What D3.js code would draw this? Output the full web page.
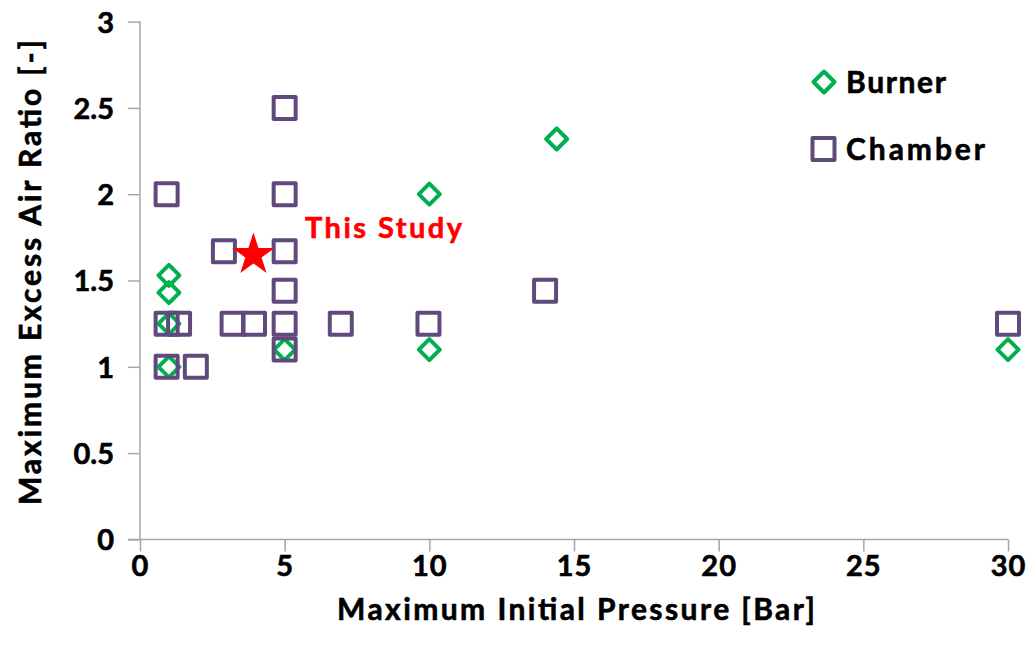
<!DOCTYPE html>
<html>
<head>
<meta charset="utf-8">
<script src="https://cdn.jsdelivr.net/npm/d3@7"></script>
<style>
  html, body { margin: 0; padding: 0; background: #fff; }
  svg { display: block; }
  text { font-family: Lato, "Open Sans", sans-serif; font-weight: bold; stroke-width: 0.6px; }
</style>
</head>
<body>
<svg id="chart" width="1034" height="657"></svg>
<script>
// Burner measurements: maximum initial pressure [bar] and excess air ratio [-]
const burnerPressure = [1, 1, 1, 1, 5, 10, 10, 14.4, 30];
const burnerRatio    = [1.53, 1.43, 1.25, 1.0, 1.1, 2.0, 1.1, 2.32, 1.1];

// Chamber measurements
const chamberPressure = [0.92, 5, 5, 2.9, 5, 5, 14, 0.92, 1.35, 3.2, 3.94, 5, 6.94, 9.97, 30, 5, 0.92, 1.93];
const chamberRatio    = [2.0, 2.5, 2.0, 1.67, 1.67, 1.44, 1.44, 1.25, 1.25, 1.25, 1.25, 1.25, 1.25, 1.25, 1.25, 1.1, 1.0, 1.0];

// Present study
const studyPressure = [3.92];
const studyRatio    = [1.66];

const xTicks = [0, 5, 10, 15, 20, 25, 30];
const yTicks = [0, 0.5, 1, 1.5, 2, 2.5, 3];
const seriesNames = ["Burner", "Chamber"];

const svg = d3.select("#chart");
const margin = { left: 140, right: 26, top: 21.6, bottom: 117.6 };
const W = 1034, H = 657;

const x = d3.scaleLinear().domain([0, 30]).range([margin.left, W - margin.right]);
const y = d3.scaleLinear().domain([0, 3]).range([H - margin.bottom, margin.top]);

const axisColor = "#a6a6a6";
const green = "#00b050";
const purple = "#604a7b";
const tickFont = "29px";

// X axis
const xAxis = svg.append("g")
  .attr("transform", `translate(0,${y(0)})`)
  .call(d3.axisBottom(x).tickValues(xTicks).tickSize(12).tickPadding(2).tickFormat(d3.format("d")));
xAxis.select(".domain").attr("stroke", axisColor).attr("stroke-width", 1.5)
  .attr("d", `M${x(0) - 12},0H${x(30)}`);
xAxis.selectAll(".tick line").attr("stroke", axisColor).attr("stroke-width", 1.5);
xAxis.selectAll(".tick text").attr("fill", "#000").attr("stroke", "#000").style("font-size", tickFont)
  .attr("letter-spacing", "1px").attr("dy", "0.78em");

// Y axis
const yAxis = svg.append("g")
  .attr("transform", `translate(${x(0)},0)`)
  .call(d3.axisLeft(y).tickValues(yTicks).tickSize(12).tickPadding(14).tickFormat(d => d));
yAxis.select(".domain").attr("stroke", axisColor).attr("stroke-width", 1.5)
  .attr("d", `M0,${y(3)}V${y(0)}`);
yAxis.selectAll(".tick line").attr("stroke", axisColor).attr("stroke-width", 1.5);
yAxis.selectAll(".tick text").attr("fill", "#000").attr("stroke", "#000").style("font-size", tickFont)
  .attr("dy", "0.36em");

// Axis titles
svg.append("text")
  .attr("x", 337).attr("y", 620)
  .attr("textLength", 478).attr("lengthAdjust", "spacing")
  .attr("fill", "#000").attr("stroke", "#000")
  .style("font-size", "30px")
  .text("Maximum Initial Pressure [Bar]");

svg.append("text")
  .attr("transform", `translate(41,505) rotate(-90)`)
  .attr("textLength", 465).attr("lengthAdjust", "spacing")
  .attr("fill", "#000").attr("stroke", "#000")
  .style("font-size", "30px")
  .text("Maximum Excess Air Ratio [-]");

// Marker shapes
const diamondR = 10.5;
const diamondPath = `M0,${-diamondR}L${diamondR},0L0,${diamondR}L${-diamondR},0Z`;
const sq = 22;

const plot = svg.append("g");

// Burner series (diamonds)
plot.append("g").selectAll("path")
  .data(d3.range(burnerPressure.length))
  .join("path")
  .attr("d", diamondPath)
  .attr("transform", i => `translate(${x(burnerPressure[i])},${y(burnerRatio[i])})`)
  .attr("fill", "none").attr("stroke", green).attr("stroke-width", 4)
  .attr("stroke-linejoin", "round");

// Chamber series (squares)
plot.append("g").selectAll("rect")
  .data(d3.range(chamberPressure.length))
  .join("rect")
  .attr("x", i => x(chamberPressure[i]) - sq / 2)
  .attr("y", i => y(chamberRatio[i]) - sq / 2)
  .attr("width", sq).attr("height", sq)
  .attr("fill", "none").attr("stroke", purple).attr("stroke-width", 4)
  .attr("stroke-linejoin", "round");

// Present study (star)
const star = d3.symbol().type(d3.symbolStar).size(560);
plot.append("g").selectAll("path")
  .data(d3.range(studyPressure.length))
  .join("path")
  .attr("d", star)
  .attr("transform", i => `translate(${x(studyPressure[i])},${y(studyRatio[i]) + 2})`)
  .attr("fill", "#ff0000");

svg.append("text")
  .attr("x", 305).attr("y", 238)
  .attr("textLength", 157).attr("lengthAdjust", "spacing")
  .attr("fill", "#ff0000").attr("stroke", "#ff0000").style("font-size", "29px")
  .text("This Study");

// Legend
const legend = svg.append("g");
const legendRows = [
  { name: seriesNames[0], cy: 82, len: 100 },
  { name: seriesNames[1], cy: 149, len: 139 }
];
legend.append("path")
  .attr("d", diamondPath)
  .attr("transform", `translate(824,${legendRows[0].cy})`)
  .attr("fill", "none").attr("stroke", green).attr("stroke-width", 4)
  .attr("stroke-linejoin", "round");
legend.append("rect")
  .attr("x", 823.5 - sq / 2).attr("y", legendRows[1].cy - sq / 2)
  .attr("width", sq).attr("height", sq)
  .attr("fill", "none").attr("stroke", purple).attr("stroke-width", 4)
  .attr("stroke-linejoin", "round");
legend.selectAll("text.lbl")
  .data(legendRows)
  .join("text")
  .attr("class", "lbl")
  .attr("x", 846).attr("y", d => d.cy)
  .attr("dy", "0.36em")
  .attr("textLength", d => d.len).attr("lengthAdjust", "spacing")
  .attr("fill", "#000").attr("stroke", "#000")
  .style("font-size", "30px")
  .text(d => d.name);
</script>
</body>
</html>
